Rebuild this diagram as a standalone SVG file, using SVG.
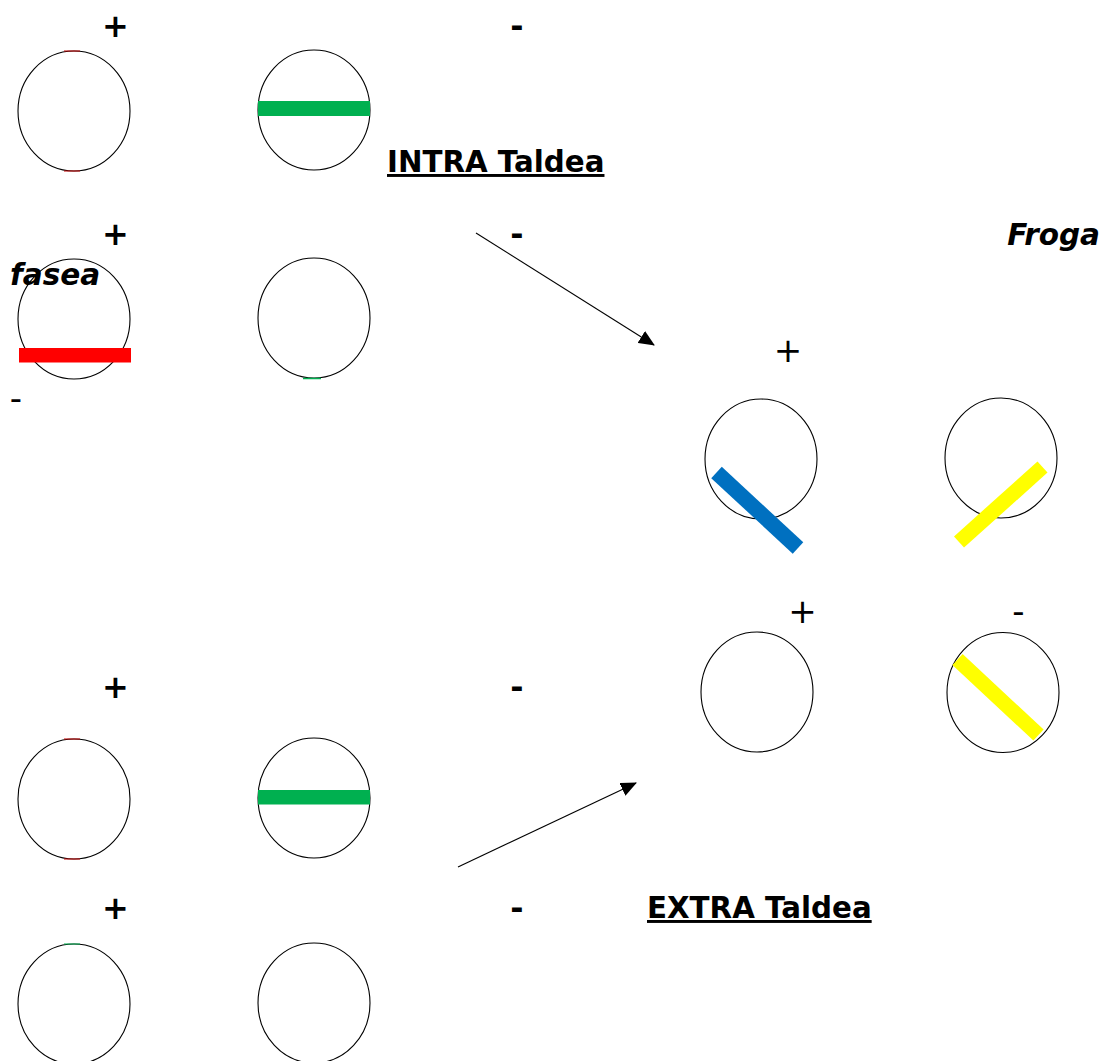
<svg xmlns="http://www.w3.org/2000/svg" width="1104" height="1061" viewBox="0 0 1104 1061">
<defs>
<style>
.c{fill:#fff;stroke:#000;stroke-width:1.1}
.b{font-family:"DejaVu Sans",sans-serif;font-weight:bold;font-size:32px;text-anchor:middle;fill:#000}
.r{font-family:"DejaVu Sans",sans-serif;font-size:34px;text-anchor:middle;fill:#000}
.t{font-family:"DejaVu Sans",sans-serif;font-weight:bold;font-size:29.3px;fill:#000;text-decoration:underline}
.i{font-family:"DejaVu Sans",sans-serif;font-weight:bold;font-style:italic;font-size:29.5px;fill:#000}
.g{fill:#00b050}
.y{stroke:#ffff00;stroke-width:15}
</style>
<marker id="ah" markerWidth="16" markerHeight="14" refX="15" refY="7" orient="auto" markerUnits="userSpaceOnUse" viewBox="0 0 16 14">
<path d="M0,0 L16,7 L0,14 Z" fill="#000"/>
</marker>
</defs>
<g id="n1"><ellipse class="c" cx="74" cy="111" rx="56" ry="60"/><path d="M64,51 H80 M64,171 H80" stroke="#c00000" stroke-width="1"/></g>
<g id="n2"><ellipse class="c" cx="314" cy="110" rx="56" ry="60"/><rect class="g" x="258" y="101" width="112" height="15"/></g>
<g id="n3"><ellipse class="c" cx="74" cy="319" rx="56" ry="60"/><rect x="19" y="348" width="112" height="14.5" fill="#ff0000"/></g>
<g id="n4"><ellipse class="c" cx="314" cy="318" rx="56" ry="60"/><path d="M303,378.5 H321" stroke="#00b050" stroke-width="1.5"/></g>
<g id="n5"><ellipse class="c" cx="761" cy="459" rx="56" ry="60"/><line x1="716.5" y1="472.5" x2="798" y2="548" stroke="#0070c0" stroke-width="15.5"/></g>
<g id="n6"><ellipse class="c" cx="1001" cy="458" rx="56" ry="60"/><line class="y" x1="959" y1="542" x2="1042.5" y2="467"/></g>
<g id="n7"><ellipse class="c" cx="757" cy="692" rx="56" ry="60"/></g>
<g id="n8"><ellipse class="c" cx="1003" cy="692.5" rx="56" ry="60"/><line class="y" x1="957.5" y1="659.5" x2="1038.5" y2="735"/></g>
<g id="n9"><ellipse class="c" cx="74" cy="799" rx="56" ry="60"/><path d="M64,739 H80 M64,859 H80" stroke="#c00000" stroke-width="1"/></g>
<g id="n10"><ellipse class="c" cx="314" cy="798" rx="56" ry="60"/><rect class="g" x="258" y="790" width="112" height="14.5"/></g>
<g id="n11"><ellipse class="c" cx="74" cy="1004" rx="56" ry="60"/><path d="M64,944 H80" stroke="#00b050" stroke-width="1"/></g>
<g id="n12"><ellipse class="c" cx="314" cy="1003" rx="56" ry="60"/></g>
<g id="connectors" stroke="#000" stroke-width="1.1" fill="none">
<line x1="476" y1="233" x2="654" y2="345" marker-end="url(#ah)"/>
<line x1="458" y1="867" x2="636" y2="783" marker-end="url(#ah)"/>
</g>
<g id="labels">
<text class="b" x="115.5" y="37">+</text>
<text class="b" x="517" y="37">-</text>
<text class="t" x="387" y="172">INTRA Taldea</text>
<text class="b" x="115.5" y="245">+</text>
<text class="b" x="517" y="245">-</text>
<text class="i" x="1100" y="245" text-anchor="end">Froga</text>
<text class="i" x="10" y="285">fasea</text>
<text class="r" x="16" y="410">-</text>
<text class="r" x="788" y="362">+</text>
<text class="r" x="802.5" y="623">+</text>
<text class="r" x="1018.5" y="623">-</text>
<text class="b" x="115.5" y="698">+</text>
<text class="b" x="517" y="698">-</text>
<text class="b" x="115.5" y="919">+</text>
<text class="b" x="517" y="919">-</text>
<text class="t" x="647" y="918">EXTRA Taldea</text>
</g>
</svg>
